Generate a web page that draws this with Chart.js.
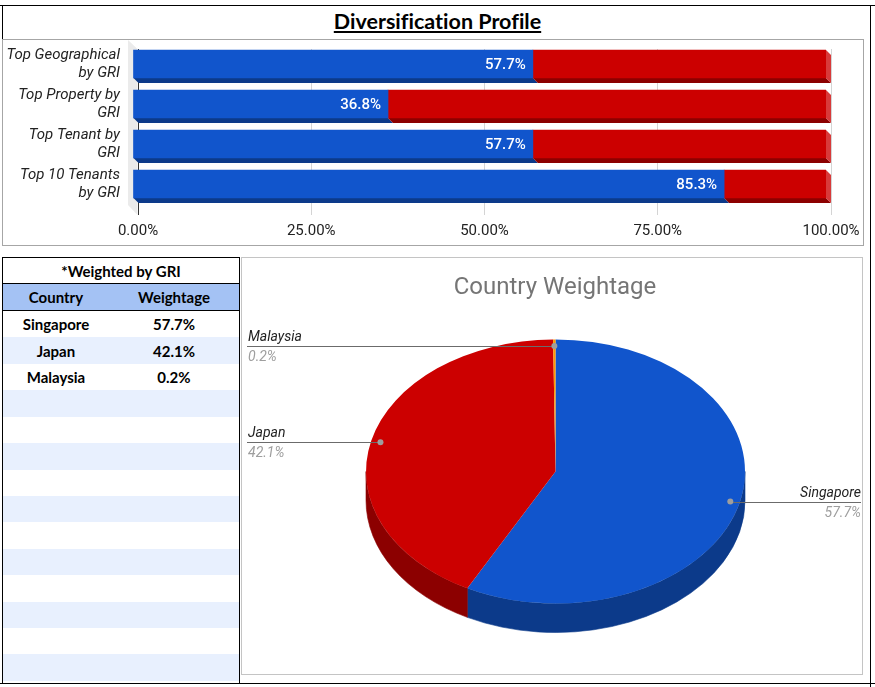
<!DOCTYPE html>
<html>
<head>
<meta charset="utf-8">
<script src="https://cdn.jsdelivr.net/npm/chart.js@4.4.1/dist/chart.umd.min.js"></script>
<style>
body{margin:0;width:875px;height:687px;position:relative;background:#fff;overflow:hidden;font-family:Roboto,sans-serif}
.abs{position:absolute}
#title{left:0;top:7.5px;width:875px;text-align:center;font:bold 21.5px/26px Lato,sans-serif;text-decoration:underline;color:#000;font-variant-ligatures:none}
#barBox{left:2px;top:39px;width:860px;height:205px;border:1px solid #a6a6a6}
#pieBox{left:241px;top:257px;width:620px;height:416px;border:1px solid #c4c4c4}
#pieTitle{left:245px;top:272px;width:620px;text-align:center;font:24px/28px Roboto,sans-serif;color:#757575}
#table{left:2px;top:257px;width:236px;height:425px;border-left:1px solid #000;border-right:1px solid #000;border-top:1px solid #000;font:bold 15px Lato,sans-serif;color:#000}
.row{display:flex;align-items:center;height:26.43px}
.row div{text-align:center}
.c1{width:106px}.c2{width:130px}
.note{height:25px;border-bottom:1px solid #000;justify-content:center}
.head{height:26px;background:#a4c2f4;border-bottom:1px solid #000}
.alt{background:#e8f0fe}
</style>
</head>
<body>
<div class="abs" style="left:0;top:5px;width:875px;height:1px;background:#000"></div>
<div class="abs" style="left:2px;top:5px;width:1px;height:34px;background:#000"></div>
<div class="abs" style="left:870px;top:5px;width:1px;height:682px;background:#000"></div>
<div class="abs" style="left:0;top:683px;width:875px;height:1px;background:#000"></div>

<div id="title" class="abs">Diversification Profile</div>

<div id="barBox" class="abs"><canvas id="barChart" width="860" height="205"></canvas></div>

<div id="table" class="abs"></div>

<div id="pieBox" class="abs"><canvas id="pieChart" width="620" height="416"></canvas></div>
<div id="pieTitle" class="abs">Country Weightage</div>

<script>
/* data */

const barLabels = [["Top Geographical","by GRI"],["Top Property by","GRI"],["Top Tenant by","GRI"],["Top 10 Tenants","by GRI"]];
const topShare = [57.7, 36.8, 57.7, 85.3];
const restShare = [42.3, 63.2, 42.3, 14.7];
const axisTicks = [0, 25, 50, 75, 100];

const countries = ["Singapore","Japan","Malaysia"];
const weights = [57.7, 42.1, 0.2];
const emptyRows = 11;

Chart.defaults.font.family = "Roboto";


/* table */

let table = document.getElementById("table");
let html = '<div class="row note">*Weighted by GRI</div>';
html += '<div class="row head"><div class="c1">Country</div><div class="c2">Weightage</div></div>';
countries.forEach((c,i) => {
html += '<div class="row' + (i%2 ? ' alt' : '') + '"><div class="c1">' + c + '</div><div class="c2">' + weights[i].toFixed(1) + '%</div></div>';
});
for(let i = countries.length; i < countries.length + emptyRows; i++){
html += '<div class="row' + (i%2 ? ' alt' : '') + '"></div>';
}
table.innerHTML = html;


/* 3d bars */

const DEPTH = 5;

const bar3d = {
id:"bar3d",
beforeDatasetsDraw(chart){
const ctx = chart.ctx, a = chart.chartArea;
ctx.save();
ctx.fillStyle = "#ebebeb";
ctx.beginPath();
ctx.moveTo(a.left-10, a.top-9);
ctx.lineTo(a.left-0.5, a.top);
ctx.lineTo(a.left-0.5, a.bottom+6);
ctx.lineTo(a.left-10, a.bottom-4);
ctx.closePath();
ctx.fill();
let last = chart.data.datasets.length-1;
chart.data.datasets.forEach((ds,i) => {
chart.getDatasetMeta(i).data.forEach(el => {
let p = el.getProps(["x","y","base","height"], true);
let y0 = p.y - p.height/2, y1 = p.y + p.height/2;
ctx.fillStyle = ds.shadeColor;
ctx.beginPath();
ctx.moveTo(p.base-DEPTH, y1-DEPTH);
ctx.lineTo(p.x-DEPTH, y1-DEPTH);
ctx.lineTo(p.x, y1);
ctx.lineTo(p.base, y1);
ctx.closePath();
ctx.fill();
if(i === last){
ctx.fillStyle = ds.sideColor;
ctx.beginPath();
ctx.moveTo(p.x-DEPTH, y0-DEPTH);
ctx.lineTo(p.x, y0);
ctx.lineTo(p.x, y1);
ctx.lineTo(p.x-DEPTH, y1-DEPTH);
ctx.closePath();
ctx.fill();
}
});
});
ctx.restore();
ctx.save();
ctx.translate(-DEPTH, -DEPTH);
},
afterDatasetsDraw(chart){
const ctx = chart.ctx;
ctx.restore();
ctx.save();
ctx.fillStyle = "#fff";
ctx.font = "500 15px Roboto";
ctx.textAlign = "right";
ctx.textBaseline = "middle";
chart.getDatasetMeta(0).data.forEach((el,i) => {
let p = el.getProps(["x","y"], true);
ctx.fillText(topShare[i].toFixed(1) + "%", p.x - DEPTH - 7, p.y - DEPTH + 1);
});
ctx.restore();
}
};

new Chart(document.getElementById("barChart"),{
type:"bar",
data:{
labels:barLabels,
datasets:[{
data:topShare,
backgroundColor:"#1155cc",
shadeColor:"#0c3a8a",
barThickness:28
},{
data:restShare,
backgroundColor:"#cc0000",
shadeColor:"#8c0000",
sideColor:"#d83a3a",
barThickness:28
}]
},
options:{
indexAxis:"y",
responsive:false,
animation:false,
events:[],
layout:{padding:{left:0,top:9,right:32,bottom:0}},
plugins:{legend:{display:false},tooltip:{enabled:false}},
scales:{
x:{
stacked:true,
min:0,
max:100,
afterBuildTicks:s => { s.ticks = axisTicks.map(v => ({value:v})); },
afterFit:s => { s.height = 36; s.paddingLeft = 0; s.paddingRight = 0; },
border:{display:false},
grid:{color:c => c.index === 0 ? "#333" : "#d4d4d4", tickLength:6},
ticks:{padding:7, color:"#222", font:{size:15}, callback:v => v.toFixed(2) + "%"}
},
y:{
stacked:true,
afterFit:s => { s.width = 135; s.paddingTop = 0; s.paddingBottom = 0; },
border:{display:false},
grid:{display:false, drawTicks:false},
ticks:{labelOffset:-5, padding:18, color:"#222", font:{size:15, style:"italic", lineHeight:1.2}}
}
}
},
plugins:[bar3d]
});


/* 3d pie */

const TILT = 132/189.5;
const SIDE = 29;

const pie3d = {
id:"pie3d",
beforeDatasetsDraw(chart){
const ctx = chart.ctx, ds = chart.data.datasets[0];
let arcs = chart.getDatasetMeta(0).data;
ctx.save();
arcs.forEach((arc,i) => {
let p = arc.getProps(["x","y","startAngle","endAngle","outerRadius"], true);
let a1 = Math.max(p.startAngle, 0), a2 = Math.min(p.endAngle, Math.PI);
if(a2 <= a1) return;
ctx.fillStyle = ds.sideColors[i];
ctx.strokeStyle = ds.sideColors[i];
ctx.lineWidth = 0.6;
ctx.beginPath();
ctx.ellipse(p.x, p.y, p.outerRadius, p.outerRadius*TILT, 0, a1, a2);
ctx.ellipse(p.x, p.y+SIDE, p.outerRadius, p.outerRadius*TILT, 0, a2, a1, true);
ctx.closePath();
ctx.fill();
ctx.stroke();
});
ctx.restore();
let cy = arcs[0].y;
ctx.save();
ctx.translate(0, cy);
ctx.scale(1, TILT);
ctx.translate(0, -cy);
},
afterDatasetsDraw(chart){
const ctx = chart.ctx;
ctx.restore();
ctx.save();
chart.getDatasetMeta(0).data.forEach((arc,i) => {
let p = arc.getProps(["x","y","startAngle","endAngle","outerRadius"], true);
let m = (p.startAngle + p.endAngle)/2;
let px = p.x + Math.cos(m)*p.outerRadius*0.95;
let py = p.y + Math.sin(m)*p.outerRadius*0.95*TILT;
let left = Math.cos(m) < 0;
let ex = left ? 5 : chart.width - 1;
ctx.strokeStyle = "#6b6b6b";
ctx.lineWidth = 1;
ctx.beginPath();
ctx.moveTo(px, Math.round(py)+0.5);
ctx.lineTo(ex, Math.round(py)+0.5);
ctx.stroke();
ctx.fillStyle = "#9e9e9e";
ctx.beginPath();
ctx.arc(px, py, 3, 0, Math.PI*2);
ctx.fill();
ctx.textAlign = left ? "left" : "right";
ctx.textBaseline = "alphabetic";
ctx.font = "italic 14px Roboto";
ctx.fillStyle = "#222";
ctx.fillText(countries[i], left ? ex + 1 : ex, py - 5);
ctx.fillStyle = "#9e9e9e";
ctx.fillText(weights[i].toFixed(1) + "%", left ? ex + 1 : ex, py + 15);
});
ctx.restore();
}
};

new Chart(document.getElementById("pieChart"),{
type:"pie",
data:{
labels:countries,
datasets:[{
data:weights,
backgroundColor:["#1155cc","#cc0000","#ff9900"],
sideColors:["#0c3a8a","#8c0000","#b36b00"],
borderWidth:0
}]
},
options:{
responsive:false,
animation:false,
events:[],
layout:{padding:{left:124,right:117,top:24,bottom:13}},
plugins:{legend:{display:false},tooltip:{enabled:false}}
},
plugins:[pie3d]
});
</script>
</body>
</html>
